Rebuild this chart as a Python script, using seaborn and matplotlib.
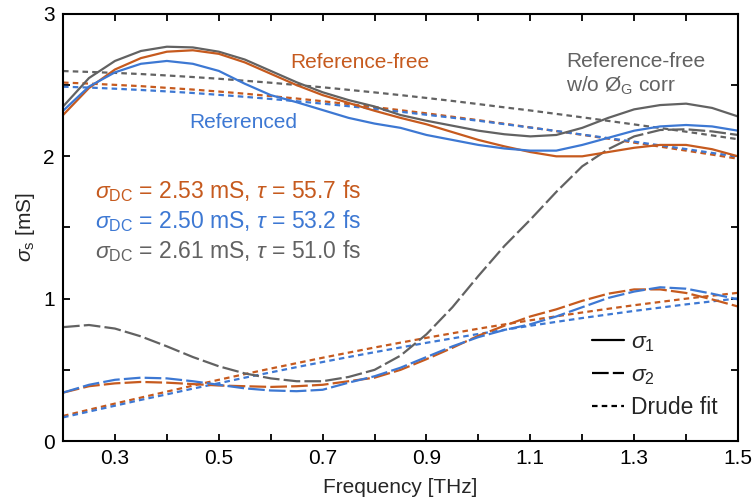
import numpy as np
import pandas as pd
import matplotlib
matplotlib.use("Agg")
import matplotlib.pyplot as plt
import seaborn as sns
from matplotlib.lines import Line2D

# frequency grid [THz]
freq = [0.20, 0.25, 0.30, 0.35, 0.40, 0.45, 0.50, 0.55, 0.60, 0.65, 0.70, 0.75, 0.80, 0.85,
        0.90, 0.95, 1.00, 1.05, 1.10, 1.15, 1.20, 1.25, 1.30, 1.35, 1.40, 1.45, 1.50]

# reference-free (orange)
rf_s1 = [2.29, 2.48, 2.61, 2.69, 2.735, 2.745, 2.72, 2.66, 2.58, 2.50, 2.43, 2.375, 2.32, 2.27,
         2.225, 2.17, 2.115, 2.07, 2.03, 2.00, 2.00, 2.03, 2.06, 2.08, 2.08, 2.05, 2.00]
rf_s2 = [0.34, 0.385, 0.405, 0.415, 0.41, 0.40, 0.39, 0.385, 0.38, 0.385, 0.395, 0.42, 0.445, 0.50,
         0.575, 0.655, 0.74, 0.81, 0.875, 0.925, 0.985, 1.035, 1.065, 1.065, 1.04, 0.995, 0.945]
rf_d1 = [2.518, 2.511, 2.502, 2.493, 2.481, 2.469, 2.455, 2.440, 2.423, 2.406, 2.387, 2.367, 2.346, 2.324,
         2.302, 2.278, 2.254, 2.229, 2.203, 2.177, 2.151, 2.124, 2.096, 2.068, 2.040, 2.012, 1.983]
rf_d2 = [0.176, 0.220, 0.263, 0.305, 0.347, 0.389, 0.430, 0.470, 0.509, 0.547, 0.585, 0.621, 0.657, 0.691,
         0.725, 0.757, 0.789, 0.819, 0.848, 0.876, 0.903, 0.929, 0.954, 0.977, 1.000, 1.021, 1.041]

# referenced (blue)
ref_s1 = [2.32, 2.49, 2.59, 2.65, 2.67, 2.65, 2.60, 2.51, 2.43, 2.38, 2.325, 2.27, 2.23, 2.20,
          2.15, 2.115, 2.08, 2.055, 2.04, 2.04, 2.08, 2.13, 2.18, 2.21, 2.22, 2.21, 2.18]
ref_s2 = [0.34, 0.395, 0.43, 0.445, 0.44, 0.42, 0.395, 0.37, 0.355, 0.35, 0.36, 0.41, 0.455, 0.515,
          0.59, 0.665, 0.73, 0.78, 0.82, 0.875, 0.94, 1.005, 1.05, 1.08, 1.07, 1.035, 0.995]
ref_d1 = [2.489, 2.483, 2.475, 2.466, 2.456, 2.445, 2.432, 2.418, 2.403, 2.387, 2.370, 2.352, 2.333, 2.313,
          2.292, 2.271, 2.250, 2.226, 2.202, 2.178, 2.153, 2.128, 2.103, 2.077, 2.051, 2.024, 1.998]
ref_d2 = [0.166, 0.207, 0.248, 0.289, 0.328, 0.368, 0.406, 0.445, 0.482, 0.519, 0.555, 0.590, 0.624, 0.657,
          0.690, 0.721, 0.752, 0.781, 0.810, 0.837, 0.864, 0.889, 0.914, 0.937, 0.960, 0.981, 1.002]

# reference-free without phase correction (gray)
nc_s1 = [2.35, 2.55, 2.67, 2.74, 2.77, 2.765, 2.735, 2.68, 2.60, 2.52, 2.45, 2.395, 2.35, 2.29,
         2.25, 2.215, 2.18, 2.155, 2.14, 2.15, 2.20, 2.27, 2.33, 2.36, 2.37, 2.34, 2.28]
nc_s2 = [0.80, 0.815, 0.79, 0.735, 0.665, 0.59, 0.525, 0.475, 0.44, 0.42, 0.42, 0.45, 0.50, 0.60,
         0.75, 0.94, 1.16, 1.37, 1.555, 1.75, 1.93, 2.05, 2.14, 2.185, 2.19, 2.175, 2.15]
nc_d1 = [2.599, 2.593, 2.586, 2.578, 2.568, 2.557, 2.545, 2.531, 2.517, 2.501, 2.485, 2.467, 2.449, 2.430,
         2.410, 2.389, 2.367, 2.344, 2.322, 2.298, 2.274, 2.249, 2.224, 2.199, 2.173, 2.147, 2.120]

orange = "#C65A1E"
blue = "#3D78D3"
gray = "#626262"

df = pd.DataFrame({"f": freq,
                   "rf_s1": rf_s1, "rf_s2": rf_s2, "rf_d1": rf_d1, "rf_d2": rf_d2,
                   "ref_s1": ref_s1, "ref_s2": ref_s2, "ref_d1": ref_d1, "ref_d2": ref_d2,
                   "nc_s1": nc_s1, "nc_s2": nc_s2, "nc_d1": nc_d1})

sns.set_style("ticks")
plt.rcParams["font.family"] = ["Liberation Sans", "DejaVu Sans"]
plt.rcParams["mathtext.fontset"] = "custom"
plt.rcParams["mathtext.rm"] = "Liberation Sans"
plt.rcParams["mathtext.it"] = "Liberation Sans:italic"
plt.rcParams["lines.scale_dashes"] = False

fig = plt.figure(figsize=(7.54, 4.99), dpi=100)
ax = fig.add_axes([0.0836, 0.1162, 0.8952, 0.8558])

long_dash = (0, (12, 3))
short_dash = (0, (4, 3))

series = [
    ("nc_d1", gray, short_dash), ("rf_d1", orange, short_dash), ("ref_d1", blue, short_dash),
    ("rf_d2", orange, short_dash), ("ref_d2", blue, short_dash),
    ("nc_s2", gray, long_dash), ("rf_s2", orange, long_dash), ("ref_s2", blue, long_dash),
    ("nc_s1", gray, "-"), ("rf_s1", orange, "-"), ("ref_s1", blue, "-"),
]
for col, c, ls in series:
    sns.lineplot(data=df, x="f", y=col, color=c, linestyle=ls, linewidth=1.6, ax=ax,
                 solid_joinstyle="round", dash_joinstyle="round")

ax.set_xlim(0.2, 1.5)
ax.set_ylim(0, 3)
xt = np.round(np.arange(0.2, 1.51, 0.1), 1)
ax.set_xticks(xt)
ax.set_xticklabels([f"{v:.1f}" if round(v * 10) % 2 == 1 else "" for v in xt])
ax.set_yticks([0, 0.5, 1, 1.5, 2, 2.5, 3])
ax.set_yticklabels(["0", "", "1", "", "2", "", "3"])
ax.tick_params(direction="in", top=True, right=True, length=5, width=1.3,
               labelsize=15, colors="black", pad=6)
for s in ax.spines.values():
    s.set_linewidth(1.5)
    s.set_color("black")

ax.set_xlabel("Frequency [THz]", fontsize=15, labelpad=7)
ax.set_ylabel(r"$\sigma_{\rm s}$ [mS]", fontsize=15, labelpad=4)

ax.text(0.771, 2.656, "Reference-free", color=orange, fontsize=15, ha="center", va="center")
ax.text(0.547, 2.24, "Referenced", color=blue, fontsize=15, ha="center", va="center")
ax.text(1.169, 2.663, "Reference-free", color=gray, fontsize=15, ha="left", va="center")
ax.text(1.169, 2.494, r"w/o Ø$_{\rm G}$ corr", color=gray, fontsize=15, ha="left", va="center")

ann_fs = 16.5
ax.text(0.262, 1.758, r"$\sigma_{\rm DC}$ = 2.53 mS, $\tau$ = 55.7 fs", color=orange, fontsize=ann_fs, va="center")
ax.text(0.262, 1.545, r"$\sigma_{\rm DC}$ = 2.50 mS, $\tau$ = 53.2 fs", color=blue, fontsize=ann_fs, va="center")
ax.text(0.262, 1.335, r"$\sigma_{\rm DC}$ = 2.61 mS, $\tau$ = 51.0 fs", color=gray, fontsize=ann_fs, va="center")

handles = [Line2D([], [], color="black", lw=1.6, ls="-"),
           Line2D([], [], color="black", lw=1.6, ls=long_dash),
           Line2D([], [], color="black", lw=1.6, ls=short_dash)]
ax.legend(handles, [r"$\sigma_1$", r"$\sigma_2$", "Drude fit"], loc="lower right",
          frameon=False, fontsize=16.5, handlelength=1.4, handletextpad=0.3,
          labelspacing=0.4, bbox_to_anchor=(1.0, 0.003))

fig.savefig("out.png", dpi=100)
